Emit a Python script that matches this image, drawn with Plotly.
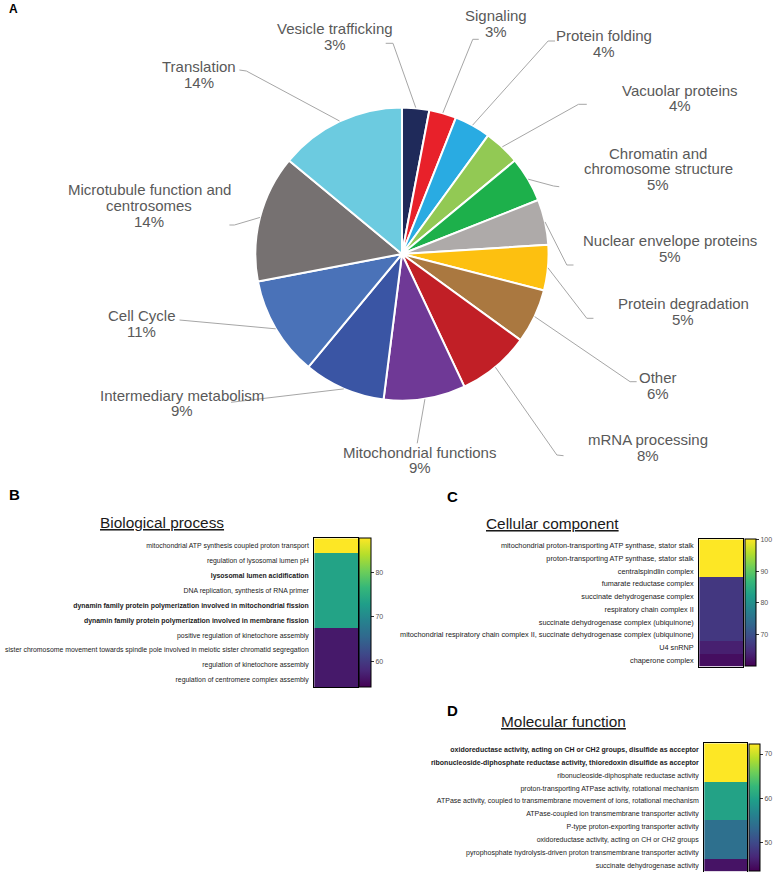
import math
import plotly.graph_objects as go

W, H = 773, 872

# ---------------- DATA ----------------
pie_categories = [
    "Vesicle trafficking", "Signaling", "Protein folding", "Vacuolar proteins",
    "Chromatin and chromosome structure", "Nuclear envelope proteins",
    "Protein degradation", "Other", "mRNA processing", "Mitochondrial functions",
    "Intermediary metabolism", "Cell Cycle",
    "Microtubule function and centrosomes", "Translation",
]
pie_percent = [3, 3, 4, 4, 5, 5, 5, 6, 8, 9, 9, 11, 14, 14]

bp_terms = [
    "mitochondrial ATP synthesis coupled proton transport",
    "regulation of lysosomal lumen pH",
    "lysosomal lumen acidification",
    "DNA replication, synthesis of RNA primer",
    "dynamin family protein polymerization involved in mitochondrial fission",
    "dynamin family protein polymerization involved in membrane fission",
    "positive regulation of kinetochore assembly",
    "sister chromosome movement towards spindle pole involved in meiotic sister chromatid segregation",
    "regulation of kinetochore assembly",
    "regulation of centromere complex assembly",
]
bp_values = [87.6, 73.5, 73.5, 73.5, 73.5, 73.5, 56.5, 56.5, 56.5, 56.5]
bp_bold = [False, False, True, False, True, True, False, False, False, False]
bp_range = [54.2, 87.6]
bp_ticks = [60, 70, 80]

cc_terms = [
    "mitochondrial proton-transporting ATP synthase, stator stalk",
    "proton-transporting ATP synthase, stator stalk",
    "centralspindlin complex",
    "fumarate reductase complex",
    "succinate dehydrogenase complex",
    "respiratory chain complex II",
    "succinate dehydrogenase complex (ubiquinone)",
    "mitochondrial respiratory chain complex II, succinate dehydrogenase complex (ubiquinone)",
    "U4 snRNP",
    "chaperone complex",
]
cc_values = [100, 100, 100, 66.5, 66.5, 66.5, 66.5, 66.5, 63.5, 61.5]
cc_bold = [False] * 10
cc_range = [60, 100]
cc_ticks = [70, 80, 90, 100]

mf_terms = [
    "oxidoreductase activity, acting on CH or CH2 groups, disulfide as acceptor",
    "ribonucleoside-diphosphate reductase activity, thioredoxin disulfide as acceptor",
    "ribonucleoside-diphosphate reductase activity",
    "proton-transporting ATPase activity, rotational mechanism",
    "ATPase activity, coupled to transmembrane movement of ions, rotational mechanism",
    "ATPase-coupled ion transmembrane transporter activity",
    "P-type proton-exporting transporter activity",
    "oxidoreductase activity, acting on CH or CH2 groups",
    "pyrophosphate hydrolysis-driven proton transmembrane transporter activity",
    "succinate dehydrogenase activity",
]
mf_values = [72.2, 72.2, 72.2, 60, 60, 60, 54, 54, 54, 45]
mf_bold = [True, True, False, False, False, False, False, False, False, False]
mf_range = [43.5, 72.2]
mf_ticks = [50, 60, 70]

# ---------------- STYLE / LAYOUT ----------------
pie_colors = ["#1f2a5a", "#e8212a", "#29abe2", "#92c954", "#1db04b", "#aeaaa9",
              "#fdc010", "#aa7840", "#c11f26", "#6f3996", "#3a55a4", "#4a72b8",
              "#767171", "#6ccbe0"]
label_wrap = {
    "Chromatin and chromosome structure": ["Chromatin and", "chromosome structure"],
    "Microtubule function and centrosomes": ["Microtubule function and", "centrosomes"],
}
# label centre x, first-line centre y (px)
label_anchor = [(336, 28.5), (497, 15.5), (606, 35.5), (682, 90), (660, 153),
                (672, 240.5), (685, 303.5), (659.5, 377.5), (649.5, 439.5),
                (421, 452), (182, 395), (142.3, 316), (149.7, 190), (199.3, 66.5)]
# leader line: elbow point and end point (px)
leader_elbow = [(394, 43.3), (474, 39.3), (549.5, 41), (580, 104.3), (555, 186),
                (568.3, 265), (588.3, 318.3), (631.7, 381.7), (558.3, 455),
                (418.3, 443.3), (231.7, 402.3), (180, 320), (235, 225), (247, 71)]
leader_end = [(386.7, 43.3), (480, 39.3), (556.5, 41), (588.3, 104.3), (560.7, 186.7),
              (575, 265), (595, 318.3), (638.3, 381.7), (565, 455.7),
              (418.3, 443.3), (231.7, 402.3), (180, 320), (230, 225), (240, 70)]
LINE_SP = 15.8
PIE_CX, PIE_CY, PIE_R = 403, 254, 147
FONT = "Liberation Sans, Arial, sans-serif"


def px(x):
    return x / W


def py(y):
    return 1 - y / H


fig = go.Figure()

fig.add_trace(go.Pie(
    labels=pie_categories, values=pie_percent, sort=False, direction="clockwise",
    rotation=0, textinfo="none", hoverinfo="label+percent",
    marker=dict(colors=pie_colors, line=dict(color="white", width=2)),
    domain=dict(x=[px(PIE_CX - PIE_R), px(PIE_CX + PIE_R)],
                y=[py(PIE_CY + PIE_R), py(PIE_CY - PIE_R)]),
    showlegend=False,
))

annotations = []
shapes = []
total = sum(pie_percent)
cum = 0
for i, (name, v) in enumerate(zip(pie_categories, pie_percent)):
    theta = 2 * math.pi * (cum + v / 2) / total
    cum += v
    rx = PIE_CX + PIE_R * math.sin(theta)
    ry = PIE_CY - PIE_R * math.cos(theta)
    ex, ey = leader_elbow[i]
    tx, ty = leader_end[i]
    shapes.append(dict(
        type="path", xref="paper", yref="paper",
        path=f"M {px(rx)},{py(ry)} L {px(ex)},{py(ey)} L {px(tx)},{py(ty)}",
        line=dict(color="#a6a6a6", width=1)))
    lines = label_wrap.get(name, [name]) + [f"{v}%"]
    cx, cy = label_anchor[i]
    for j, t in enumerate(lines):
        annotations.append(dict(
            x=px(cx), y=py(cy + j * LINE_SP), xref="paper", yref="paper",
            text=t, showarrow=False, xanchor="center", yanchor="middle",
            font=dict(family=FONT, size=15, color="#595959")))


def add_heat(terms, values, bold, zr, ticks, axn, xdom, ydom, cb_x, cb_top, cb_len, cb_th, fsize):
    ylabels = [f"<b>{t}</b>" if b else t for t, b in zip(terms, bold)]
    suffix = "" if axn == 1 else str(axn)
    fig.add_trace(go.Heatmap(
        z=[[v] for v in values], x=[0], y=ylabels,
        colorscale="Viridis", zmin=zr[0], zmax=zr[1],
        xaxis="x" + suffix, yaxis="y" + suffix, hoverinfo="y+z",
        colorbar=dict(x=px(cb_x), xanchor="left", y=py(cb_top), yanchor="top",
                      len=cb_len, lenmode="pixels", thickness=cb_th,
                      thicknessmode="pixels", xpad=0, ypad=0,
                      outlinewidth=1, outlinecolor="black",
                      tickvals=ticks, ticks="outside", ticklen=3,
                      tickcolor="#333", tickwidth=1,
                      tickfont=dict(family=FONT, size=7, color="#555")),
    ))
    fig.update_layout(**{
        "xaxis" + suffix: dict(domain=[px(xdom[0]), px(xdom[1])], anchor="y" + suffix,
                               range=[-0.5, 0.5], showticklabels=False, showgrid=False,
                               zeroline=False, showline=True, mirror=True,
                               linecolor="black", linewidth=1, ticks=""),
        "yaxis" + suffix: dict(domain=[py(ydom[1]), py(ydom[0])], anchor="x" + suffix,
                               type="category", autorange="reversed", showgrid=False,
                               zeroline=False, showline=True, mirror=True,
                               linecolor="black", linewidth=1, ticks="",
                               ticklabelstandoff=3,
                               tickfont=dict(family=FONT, size=fsize, color="#1a1a1a")),
    })


add_heat(bp_terms, bp_values, bp_bold, bp_range, bp_ticks, 1, (315, 359), (538.3, 687.3),
         360, 538.3, 149, 12, 6.9)
add_heat(cc_terms, cc_values, cc_bold, cc_range, cc_ticks, 2, (701, 745), (539.3, 666.7),
         746.7, 539.3, 127.4, 11, 7.3)
add_heat(mf_terms, mf_values, mf_bold, mf_range, mf_ticks, 3, (706, 749.3), (743.3, 871.5),
         751, 744.3, 127.2, 11, 7)

titles = [("Biological process", 162, 522), ("Cellular component", 553.7, 523),
          ("Molecular function", 564.5, 721.5)]
for t, x, y in titles:
    annotations.append(dict(x=px(x), y=py(y), xref="paper", yref="paper",
                            text=f"<u>{t}</u>", showarrow=False, xanchor="center",
                            yanchor="middle",
                            font=dict(family=FONT, size=15.4, color="#1a1a1a")))

letters = [("A", 14, 8.5, 12), ("B", 15, 495, 15), ("C", 453.8, 496.3, 15),
           ("D", 453.8, 710.3, 15)]
for t, x, y, s in letters:
    annotations.append(dict(x=px(x), y=py(y), xref="paper", yref="paper",
                            text=f"<b>{t}</b>", showarrow=False, xanchor="center",
                            yanchor="middle",
                            font=dict(family=FONT, size=s, color="black")))

fig.update_layout(
    width=W, height=H, margin=dict(l=0, r=0, t=0, b=0),
    paper_bgcolor="white", plot_bgcolor="white", showlegend=False,
    annotations=annotations, shapes=shapes,
)

fig.write_html("out.html", config={"displayModeBar": False},
               post_script="document.body.style.margin='0';document.body.style.overflow='hidden';")
